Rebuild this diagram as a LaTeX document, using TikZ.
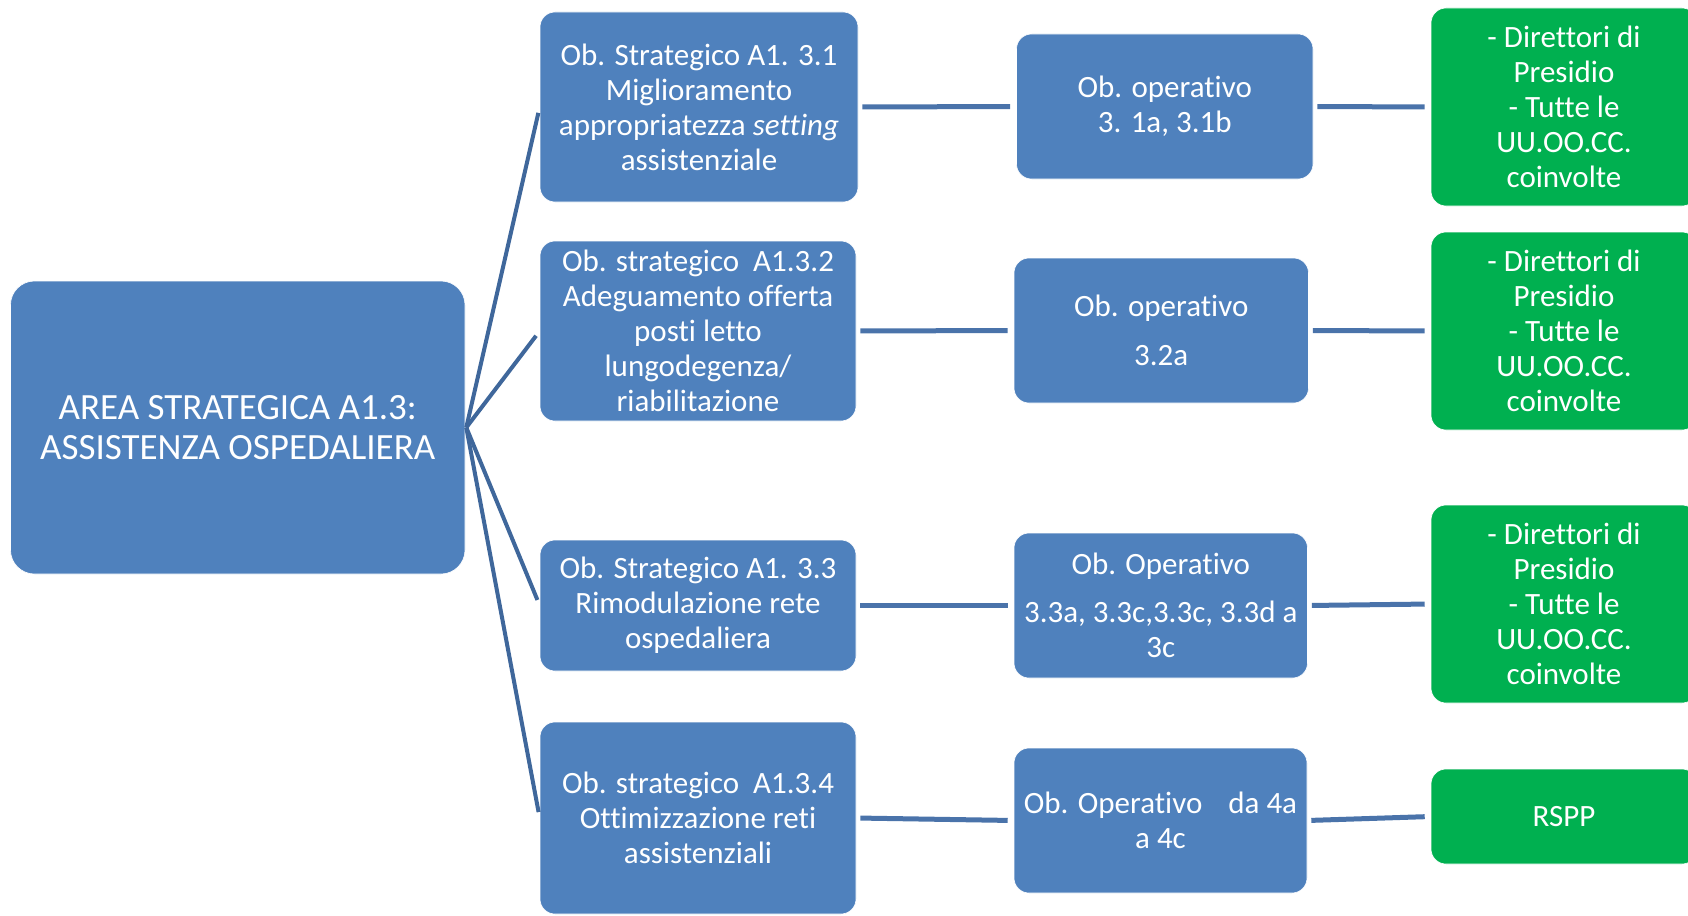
\documentclass[tikz,border=0pt]{standalone}
\usepackage{fontspec}
\setmainfont{Carlito}[Ligatures=NoCommon]
\definecolor{boxblue}{HTML}{4F81BD}
\definecolor{boxgreen}{HTML}{00B050}
\definecolor{fanline}{HTML}{3F679B}
\definecolor{rowline}{HTML}{4A73AA}
\begin{document}
\begin{tikzpicture}[x=1pt,y=-1pt,
  basebox/.style={draw=white, line width=0.6pt, text=white, align=center,
    inner sep=0pt, font=\fontsize{31}{35}\selectfont},
  bluebox/.style={basebox, fill=boxblue, rounded corners=15pt},
  greenbox/.style={basebox, fill=boxgreen, rounded corners=15pt},
  rootbox/.style={basebox, fill=boxblue, rounded corners=24pt,
    font=\fontsize{37}{40}\selectfont},
  fan/.style={draw=fanline, line width=4pt, shorten >=6pt},
  rowlink/.style={draw=rowline, line width=5pt, shorten <=4pt, shorten >=6pt}]
\useasboundingbox (0,0) rectangle (1688,915);

% root area
\node[rootbox, minimum width=454.5pt, minimum height=293pt] (main) at (237.75,427.5)
  {AREA STRATEGICA A1.3:\\ASSISTENZA OSPEDALIERA};

% strategic objectives
\node[bluebox, minimum width=318pt, minimum height=190pt] (s1) at (699,107)
  {Ob. Strategico A1. 3.1\\Miglioramento\\appropriatezza \textit{setting}\\assistenziale};
\node[bluebox, minimum width=316pt, minimum height=180pt] (s2) at (698,331)
  {Ob. strategico\ \ A1.3.2\\Adeguamento offerta\\posti letto\\lungodegenza/\\riabilitazione};
\node[bluebox, minimum width=316pt, minimum height=131pt] (s3) at (698,605.5)
  {Ob. Strategico A1. 3.3\\Rimodulazione rete\\ospedaliera};
\node[bluebox, minimum width=316pt, minimum height=192pt] (s4) at (698,818)
  {Ob. strategico\ \ A1.3.4\\Ottimizzazione reti\\assistenziali};

% operational objectives
\node[bluebox, minimum width=296.5pt, minimum height=145pt] (o1) at (1164.75,106.5)
  {Ob. operativo\\3. 1a, 3.1b};
\node[bluebox, minimum width=294.5pt, minimum height=145pt] (o2) at (1161.25,330.5)
  {Ob. operativo\\[14pt]3.2a};
\node[bluebox, minimum width=293.5pt, minimum height=145pt] (o3) at (1160.75,605.5)
  {Ob. Operativo\\[13pt]3.3a, 3.3c,3.3c, 3.3d a\\3c};
\node[bluebox, minimum width=293pt, minimum height=145pt] (o4) at (1160.5,820.5)
  {Ob. Operativo\hspace{26pt}da 4a\\a 4c};

% responsible units
\node[greenbox, minimum width=266pt, minimum height=198pt] (g1) at (1564,107)
  {- Direttori di\\Presidio\\- Tutte le\\UU.OO.CC.\\coinvolte};
\node[greenbox, minimum width=266pt, minimum height=198pt] (g2) at (1564,331)
  {- Direttori di\\Presidio\\- Tutte le\\UU.OO.CC.\\coinvolte};
\node[greenbox, minimum width=266pt, minimum height=198pt] (g3) at (1564,604)
  {- Direttori di\\Presidio\\- Tutte le\\UU.OO.CC.\\coinvolte};
\node[greenbox, minimum width=266pt, minimum height=95pt] (g4) at (1564,816.5)
  {RSPP};

% fan from the area to the strategic objectives
\foreach \s in {s1,s2,s3,s4}
  \draw[fan] ([xshift=1pt]main.east) -- (\s.west);

% row links
\foreach \a/\b in {s1/o1,o1/g1,s2/o2,o2/g2,s3/o3,o3/g3,s4/o4,o4/g4}
  \draw[rowlink] (\a.east) -- (\b.west);
\end{tikzpicture}
\end{document}
